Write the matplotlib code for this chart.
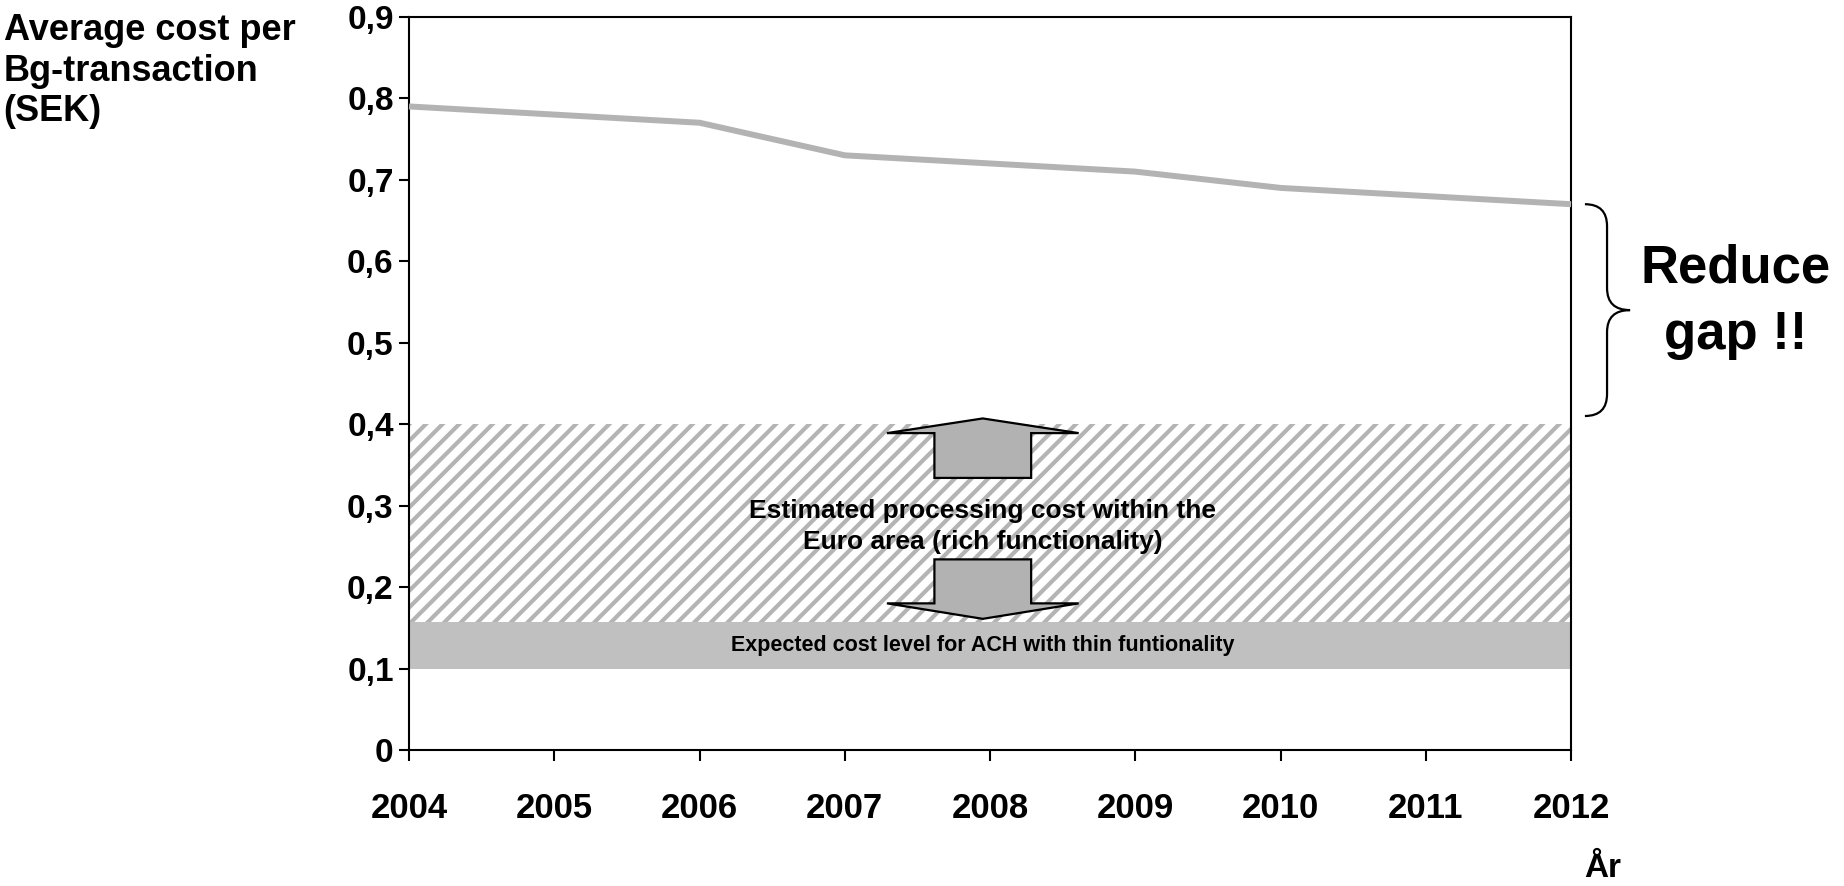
import matplotlib
matplotlib.use("Agg")
import matplotlib.pyplot as plt
from matplotlib.patches import Polygon, PathPatch
from matplotlib.path import Path
from matplotlib.transforms import blended_transform_factory
from matplotlib.ticker import FuncFormatter

plt.rcParams["font.family"] = ["Liberation Sans", "DejaVu Sans"]
plt.rcParams["font.weight"] = "bold"
plt.rcParams["hatch.linewidth"] = 3.0

# Average cost per Bg-transaction (SEK)
years = [2004, 2005, 2006, 2007, 2008, 2009, 2010, 2011, 2012]
cost = [0.79, 0.78, 0.77, 0.73, 0.72, 0.71, 0.69, 0.68, 0.67]

# Reference cost bands
euro_band = (0.157, 0.40)   # estimated processing cost within the Euro area
ach_band = (0.10, 0.157)    # expected cost level for ACH, thin functionality

y_ticks = [0, 0.1, 0.2, 0.3, 0.4, 0.5, 0.6, 0.7, 0.8, 0.9]

fig = plt.figure(figsize=(18.44, 8.86), dpi=100)
ax = fig.add_axes([0.2218, 0.1535, 0.6302, 0.8275])

# hatched band and solid band
ax.fill_between(years, euro_band[0], euro_band[1], facecolor="white",
                edgecolor="#b4b4b4", hatch="//", linewidth=0, zorder=1)
ax.fill_between(years, ach_band[0], ach_band[1], facecolor="#c0c0c0",
                edgecolor="none", linewidth=0, zorder=1)

ax.plot(years, cost, color="#b3b3b3", linewidth=4.3, solid_capstyle="butt",
        zorder=3, clip_on=False)

ax.set_xlim(years[0], years[-1])
ax.set_ylim(0, 0.9)
ax.set_xticks(years)
ax.set_yticks(y_ticks)
ax.yaxis.set_major_formatter(FuncFormatter(
    lambda v, p: "0" if abs(v) < 1e-9 else f"{v:.1f}".replace(".", ",")))

for s in ax.spines.values():
    s.set_linewidth(1.5)
ax.tick_params(axis="y", direction="out", length=7, width=1.5, pad=4,
               labelsize=24, right=False)
ax.tick_params(axis="x", direction="out", length=8, width=1.5, pad=22,
               labelsize=25, top=False)

# double arrow between the two bands
ax_cx = 2007.95
head_half = 0.66
shaft_half = 0.333


def block_arrow(y_base, y_wing, y_tip):
    pts = [(ax_cx - shaft_half, y_base), (ax_cx - shaft_half, y_wing),
           (ax_cx - head_half, y_wing), (ax_cx, y_tip),
           (ax_cx + head_half, y_wing), (ax_cx + shaft_half, y_wing),
           (ax_cx + shaft_half, y_base)]
    ax.add_patch(Polygon(pts, closed=True, facecolor="#b2b2b2",
                         edgecolor="black", linewidth=1.6, zorder=4,
                         joinstyle="miter"))


block_arrow(0.334, 0.389, 0.407)
block_arrow(0.234, 0.180, 0.161)

ax.text(ax_cx, 0.274,
        "Estimated processing cost within the\nEuro area (rich functionality)",
        ha="center", va="center", fontsize=19, fontweight="bold",
        linespacing=1.38, zorder=5)
ax.text(ax_cx, (ach_band[0] + ach_band[1]) / 2,
        "Expected cost level for ACH with thin funtionality",
        ha="center", va="center", fontsize=15.5, fontweight="bold", zorder=5)

# curly brace marking the gap
tr = blended_transform_factory(fig.transFigure, ax.transData)
b_top, b_bot = cost[-1], 0.41
b_mid = (b_top + b_bot) / 2
hook = 0.027
x_end, x_stem, x_tip = 0.8595, 0.8715, 0.884
verts = [(x_end, b_top), (x_stem, b_top), (x_stem, b_top - hook),
         (x_stem, b_mid + hook),
         (x_stem, b_mid), (x_tip, b_mid),
         (x_stem, b_mid), (x_stem, b_mid - hook),
         (x_stem, b_bot + hook),
         (x_stem, b_bot), (x_end, b_bot)]
codes = [Path.MOVETO, Path.CURVE3, Path.CURVE3, Path.LINETO,
         Path.CURVE3, Path.CURVE3, Path.CURVE3, Path.CURVE3,
         Path.LINETO, Path.CURVE3, Path.CURVE3]
fig.add_artist(PathPatch(Path(verts, codes), transform=tr, facecolor="none",
                         edgecolor="black", linewidth=1.6))

fig.text(0.941, 0.659, "Reduce\ngap !!", ha="center", va="center",
         fontsize=38, fontweight="bold", linespacing=1.42)

fig.text(0.002, 0.985, "Average cost per\nBg-transaction\n(SEK)", ha="left",
         va="top", fontsize=26, fontweight="bold", linespacing=1.2)

fig.text(0.869, 0.020, "År", ha="center", va="center", fontsize=24,
         fontweight="bold")

fig.savefig("out.png", dpi=100)
